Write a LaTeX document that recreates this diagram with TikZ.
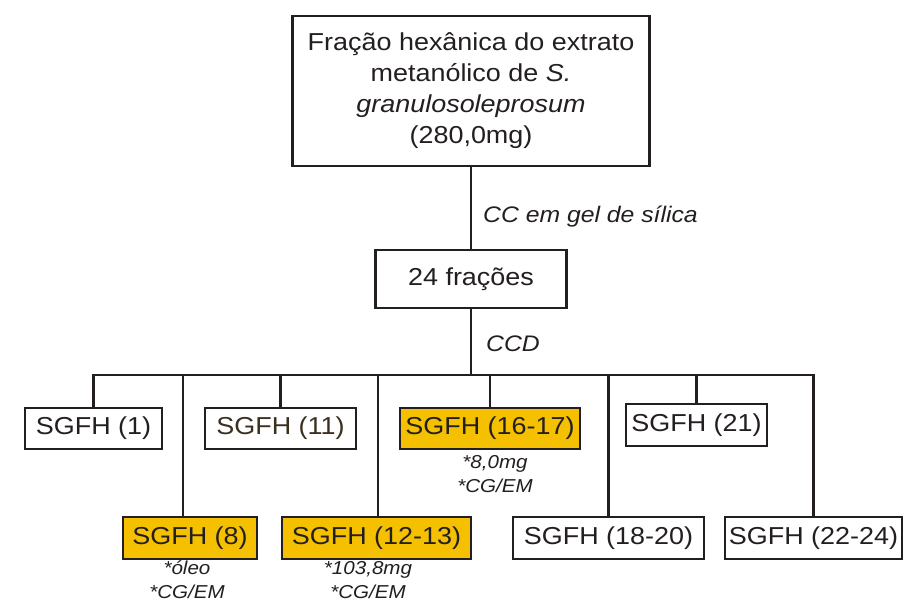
\documentclass[tikz,border=0pt]{standalone}
\usepackage{fontspec}
\setmainfont[FakeStretch=1.1]{Liberation Sans}
\definecolor{ink}{HTML}{231F20}
\definecolor{ink11}{HTML}{3B3020}
\definecolor{gold}{HTML}{F5C000}
\begin{document}
\begin{tikzpicture}[x=1pt,y=-1pt,
  box/.style={draw=ink,line width=2.7pt,inner sep=0pt,text=ink,
    font=\fontsize{24.5}{31}\selectfont,align=center},
  hl/.style={box,fill=gold},
  conn/.style={draw=ink,line width=2.7pt,line join=miter},
  lbl/.style={text=ink,font=\fontsize{22.5}{26}\selectfont\itshape,inner sep=0pt},
  note/.style={text=ink,font=\fontsize{18.7}{24}\selectfont\itshape,inner sep=0pt,align=center}]
\useasboundingbox (0,0) rectangle (918,603);
\fill[white] (0,0) rectangle (918,603);
% main boxes
\node[box,minimum width=357pt,minimum height=150pt] (top) at (471,91)
  {Fração hexânica do extrato\\metanólico de \textit{S.}\\\textit{granulosoleprosum}\\(280,0mg)};
\node[box,minimum width=191pt,minimum height=58pt] (frac) at (471,279) {24 frações};
% upper row
\node[box,minimum width=137pt,minimum height=41pt] (s1) at (93.5,428.5) {SGFH (1)};
\node[box,text=ink11,minimum width=151pt,minimum height=41pt] (s11) at (280.5,428.5) {SGFH (11)};
\node[hl,minimum width=180pt,minimum height=41pt] (s1617) at (490,428.5) {SGFH (16-17)};
\node[box,minimum width=141pt,minimum height=42pt] (s21) at (696.5,425) {SGFH (21)};
% lower row
\node[hl,minimum width=134pt,minimum height=42pt] (s8) at (190,538) {SGFH (8)};
\node[hl,minimum width=189pt,minimum height=42pt] (s1213) at (376.5,538) {SGFH (12-13)};
\node[box,minimum width=191pt,minimum height=42pt] (s1820) at (608.5,538) {SGFH (18-20)};
\node[box,minimum width=177pt,minimum height=42pt] (s2224) at (813.5,538) {SGFH (22-24)};
% bus
\coordinate (bus) at (471,375);
\coordinate (d8) at (183,517);
\coordinate (d1213) at (378,517);
\draw[conn] (top.south) -- (frac.north);
\draw[conn] (frac.south) -- (frac.south |- bus);
\draw[conn] (s1.north) -- (s1.north |- bus) -- (s2224.north |- bus) -- (s2224.north);
\draw[conn] (s11.north) -- (s11.north |- bus);
\draw[conn] (s1617.north) -- (s1617.north |- bus);
\draw[conn] (s21.north) -- (s21.north |- bus);
\draw[conn] (d8) -- (d8 |- bus);
\draw[conn] (d1213) -- (d1213 |- bus);
\draw[conn] (s1820.north) -- (s1820.north |- bus);
% labels
\node[lbl,anchor=base west] (cc) at (483,222) {CC em gel de sílica};
\node[lbl,anchor=base west] (ccd) at (486,351) {CCD};
% notes
\node[note,anchor=north] (n8) at (187,561) {*óleo\\*CG/EM};
\node[note,anchor=north] (n1213) at (368,561) {*103,8mg\\*CG/EM};
\node[note,anchor=north] (n1617) at (495,455) {*8,0mg\\*CG/EM};
\end{tikzpicture}
\end{document}
